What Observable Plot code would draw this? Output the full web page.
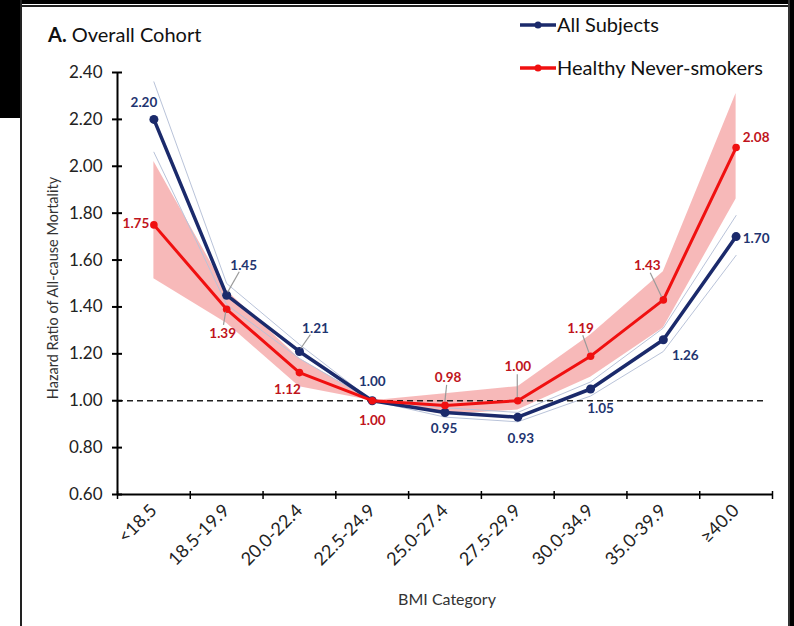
<!DOCTYPE html>
<html><head><meta charset="utf-8">
<script src="https://cdn.jsdelivr.net/npm/d3@7"></script>
<script src="https://cdn.jsdelivr.net/npm/@observablehq/plot@0.6"></script>
<style>
body{margin:0;background:#fff;}
#wrap{position:relative;width:794px;height:626px;overflow:hidden;font-family:Lato,"Open Sans",sans-serif;background:#fff;}
#wrap svg.plot{position:absolute;left:0;top:0;}
.abs{position:absolute;}
.leg{position:absolute;font-size:20px;line-height:24px;color:#111;white-space:nowrap;}
</style></head><body><div id="wrap"></div>
<script>
const categories = ["<18.5","18.5-19.9","20.0-22.4","22.5-24.9","25.0-27.4","27.5-29.9","30.0-34.9","35.0-39.9","≥40.0"];
const allHR     = [2.20,1.45,1.21,1.00,0.95,0.93,1.05,1.26,1.70];
const allLo     = [2.06,1.41,1.18,1.00,0.93,0.91,1.02,1.21,1.62];
const allHi     = [2.36,1.50,1.24,1.00,0.97,0.95,1.08,1.31,1.79];
const healthyHR = [1.75,1.39,1.12,1.00,0.98,1.00,1.19,1.43,2.08];
const healthyLo = [1.52,1.33,1.06,1.00,0.94,0.96,1.10,1.31,1.86];
const healthyHi = [2.02,1.47,1.18,1.00,1.03,1.06,1.28,1.55,2.31];
const yTicks    = [0.6,0.8,1.0,1.2,1.4,1.6,1.8,2.0,2.2,2.4];
const seriesNames = ["All Subjects","Healthy Never-smokers"];

// label placement (pixel offsets from each point), and which labels get a leader line
const allLabelOffset     = [[-10,-17],[17,-30],[16,-23],[0,-19],[-1,16],[3,22],[10,20],[22,16],[20,2]];
const healthyLabelOffset = [[-18,-1],[-4,24],[-12,17],[0,20],[3,-28],[0,-34],[-10,-28],[-16,-34],[20,-10]];
const allLeader     = [1,2];
const healthyLeader = [1,4,5,6,7];

const NAVY = "#1b2a6b", RED = "#f01010", NAVY_T = "#1f3570", RED_T = "#c0141c";
const idx = d3.range(categories.length);
const fmt = d3.format(".2f");

function labelMarks(values, offsets, color) {
  return idx.map(i => Plot.text([i], {
    x: d => d, y: d => values[d], text: d => fmt(values[d]),
    dx: offsets[i][0], dy: offsets[i][1],
    fill: color, fontWeight: "bold", fontSize: 13.5, fontFamily: "Lato"
  }));
}

const plot = Plot.plot({
  width: 794, height: 626,
  marginLeft: 117, marginRight: 22, marginTop: 72, marginBottom: 132,
  style: {fontFamily: "Lato", background: "transparent", overflow: "visible"},
  x: {domain: [-0.5, categories.length - 0.5], axis: null, label: null},
  y: {domain: [0.6, 2.4], axis: null, label: null},
  marks: [
    Plot.areaY(idx, {x: i => i, y1: i => healthyLo[i], y2: i => healthyHi[i], fill: "#f6b1b1", fillOpacity: 0.9}),
    Plot.line(idx, {x: i => i, y: i => allLo[i], stroke: "#b9c3d9", strokeWidth: 1}),
    Plot.line(idx, {x: i => i, y: i => allHi[i], stroke: "#b9c3d9", strokeWidth: 1}),
    Plot.ruleY([1], {stroke: "#222", strokeWidth: 1.5, strokeDasharray: "6,4", insetRight: 7}),
    Plot.axisY({ticks: yTicks, tickFormat: fmt, tickSize: 10, dx: 5, tickPadding: 10,
      fontSize: 17, fill: "#222", stroke: "#000", strokeWidth: 2, label: null}),
    Plot.axisX({ticks: d3.range(-0.5, categories.length, 1), tickFormat: () => "", tickSize: 8, dy: -3,
      stroke: "#000", strokeWidth: 1.5, label: null}),
    Plot.axisX({ticks: idx, tickFormat: i => categories[i], tickSize: 0, tickPadding: 13, tickRotate: -45,
      fontSize: 18, fill: "#222", label: null}),
    Plot.ruleX([-0.5], {stroke: "#000", strokeWidth: 2}),
    Plot.ruleY([0.6], {stroke: "#000", strokeWidth: 2}),
    Plot.line(idx, {x: i => i, y: i => allHR[i], stroke: NAVY, strokeWidth: 3.5}),
    Plot.dot(idx, {x: i => i, y: i => allHR[i], r: 4.5, fill: NAVY}),
    Plot.line(idx, {x: i => i, y: i => healthyHR[i], stroke: RED, strokeWidth: 3}),
    Plot.dot(idx, {x: i => i, y: i => healthyHR[i], r: 3.8, fill: RED}),
    ...labelMarks(allHR, allLabelOffset, NAVY_T),
    ...labelMarks(healthyHR, healthyLabelOffset, RED_T)
  ]
});
plot.classList.add("plot");

// leader lines from label to point, positioned with the plot's own scales
const sx = plot.scale("x"), sy = plot.scale("y");
const g = d3.select(plot).append("g").attr("stroke", "#9a9a9a").attr("stroke-width", 1.2);
function leaders(values, offsets, which) {
  which.forEach(i => {
    const px = sx.apply(i), py = sy.apply(values[i]);
    const [dx, dy] = offsets[i];
    const len = Math.hypot(dx, dy), ux = dx / len, uy = dy / len;
    g.append("line")
      .attr("x1", px + ux * 3).attr("y1", py + uy * 3)
      .attr("x2", px + ux * (len - 8)).attr("y2", py + uy * (len - 8));
  });
}
leaders(allHR, allLabelOffset, allLeader);
leaders(healthyHR, healthyLabelOffset, healthyLeader);

const wrap = document.getElementById("wrap");
wrap.appendChild(plot);

function add(html) { wrap.insertAdjacentHTML("beforeend", html); }
// frame decorations
add('<div class="abs" style="left:0;top:0;width:20px;height:118px;background:#000"></div>');
add('<div class="abs" style="left:0;top:0;width:794px;height:4px;background:#000"></div>');
add('<div class="abs" style="left:20px;top:5px;width:770px;height:1.5px;background:#222"></div>');
add('<div class="abs" style="left:20px;top:0;width:1.5px;height:626px;background:#222"></div>');
add('<div class="abs" style="left:788px;top:0;width:1.5px;height:626px;background:#333"></div>');
add('<div class="abs" style="left:790px;top:0;width:4px;height:626px;background:#000"></div>');
// title
add('<div class="abs" style="left:48px;top:22px;font-size:20px;line-height:24px;color:#111;white-space:nowrap"><b>A.</b> Overall Cohort</div>');
// axis titles
add('<div class="abs" style="left:52px;top:288px;transform:translate(-50%,-50%) rotate(-90deg);font-size:14.5px;color:#333;white-space:nowrap">Hazard Ratio of All-cause Mortality</div>');
add('<div class="abs" style="left:447px;top:598px;transform:translate(-50%,-50%);font-size:16px;color:#333;white-space:nowrap">BMI Category</div>');
// legend
const legColors = [NAVY, RED], legY = [25, 68];
seriesNames.forEach((name, k) => {
  add(`<svg class="abs" style="left:518px;top:${legY[k]-8}px" width="40" height="16"><line x1="2" x2="38" y1="8" y2="8" stroke="${legColors[k]}" stroke-width="3.5"/><circle cx="20" cy="8" r="3.5" fill="${legColors[k]}"/></svg>`);
  add(`<div class="leg" style="left:557px;top:${legY[k]-13}px">${name}</div>`);
});
</script>
</body></html>
